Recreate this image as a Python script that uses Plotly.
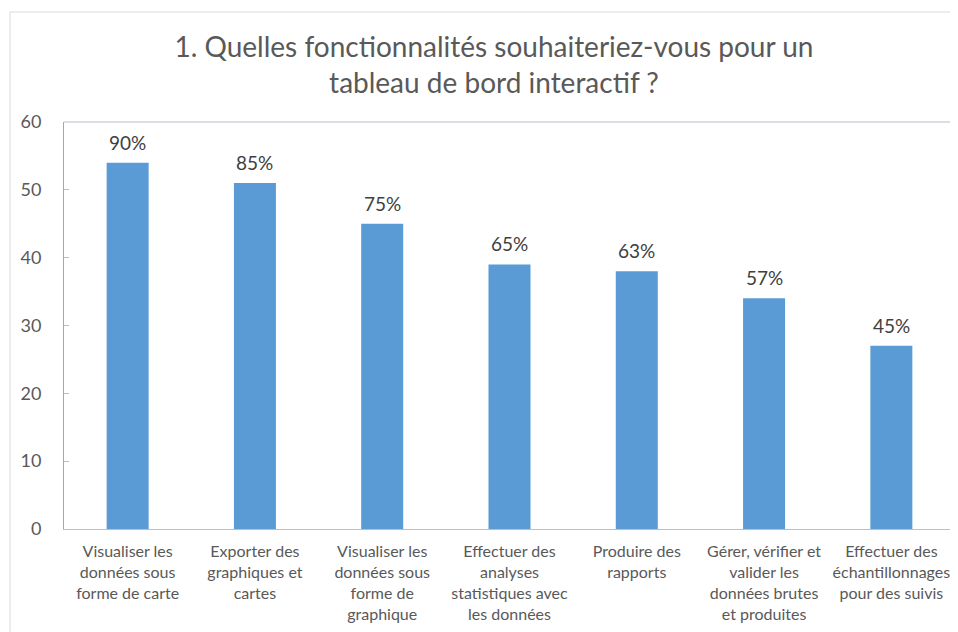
import plotly.graph_objects as go

categories = [
    "Visualiser les<br>données sous<br>forme de carte",
    "Exporter des<br>graphiques et<br>cartes",
    "Visualiser les<br>données sous<br>forme de<br>graphique",
    "Effectuer des<br>analyses<br>statistiques avec<br>les données",
    "Produire des<br>rapports",
    "Gérer, vérifier et<br>valider les<br>données brutes<br>et produites",
    "Effectuer des<br>échantillonnages<br>pour des suivis",
]
values = [54, 51, 45, 39, 38, 34, 27]
pct_labels = ["90%", "85%", "75%", "65%", "63%", "57%", "45%"]
y_ticks = [0, 10, 20, 30, 40, 50, 60]

# page body has an 8px margin, so figure coords = screen coords - 8
W, H = 958, 632
ML, MR, MT, MB = 56, 11, 114, 111
FONT = "Lato, 'Liberation Sans', sans-serif"
GRAY = "#595959"

fig = go.Figure(go.Bar(
    x=categories, y=values,
    marker=dict(color="#5B9BD5", line=dict(width=0)),
    hoverinfo="x+y",
))

for cat, val, lab in zip(categories, values, pct_labels):
    fig.add_annotation(x=cat, y=val, text=lab, showarrow=False,
                       yanchor="bottom", yshift=7,
                       font=dict(size=19, color="#404040", family=FONT))

pw = W - ML - MR
ph = H - MT - MB
# outer chart frame
fig.add_shape(type="rect", xref="paper", yref="paper",
              x0=(2 - ML) / pw, x1=(W + 20 - ML) / pw,
              y0=-(MB + 20) / ph, y1=1 + (MT - 4) / ph,
              line=dict(color="#D9D9D9", width=1), layer="below")
# plot-area border top & right
fig.add_shape(type="line", xref="paper", yref="paper",
              x0=0, x1=1, y0=1, y1=1,
              line=dict(color="#CDD5DB", width=1.5))
fig.add_shape(type="line", xref="paper", yref="paper",
              x0=1, x1=1, y0=0, y1=1,
              line=dict(color="#CDD5DB", width=1.5))

fig.update_layout(
    width=W, height=H,
    margin=dict(l=ML, r=MR, t=MT, b=MB),
    paper_bgcolor="white", plot_bgcolor="white",
    bargap=0.67,
    showlegend=False,
    title=dict(
        text="1. Quelles fonctionnalités souhaiteriez-vous pour un<br>tableau de bord interactif ?",
        x=(494 - 8) / W, xanchor="center", y=1 - (57 - 8) / H, yanchor="middle",
        font=dict(size=28, color=GRAY, family=FONT),
    ),
    xaxis=dict(
        showline=True, linecolor="#BFBFBF", linewidth=1,
        ticks="", tickfont=dict(size=16, color=GRAY, family=FONT),
        ticklabelstandoff=8,
        showgrid=False,
    ),
    yaxis=dict(
        range=[0, 60], tickvals=y_ticks,
        showline=True, linecolor="#A6A6A6", linewidth=1,
        ticks="inside", ticklen=5, tickcolor="#BFBFBF",
        ticklabelstandoff=18,
        tickfont=dict(size=18, color=GRAY, family=FONT),
        showgrid=False, zeroline=False,
    ),
)

fig.write_html("out.html")
